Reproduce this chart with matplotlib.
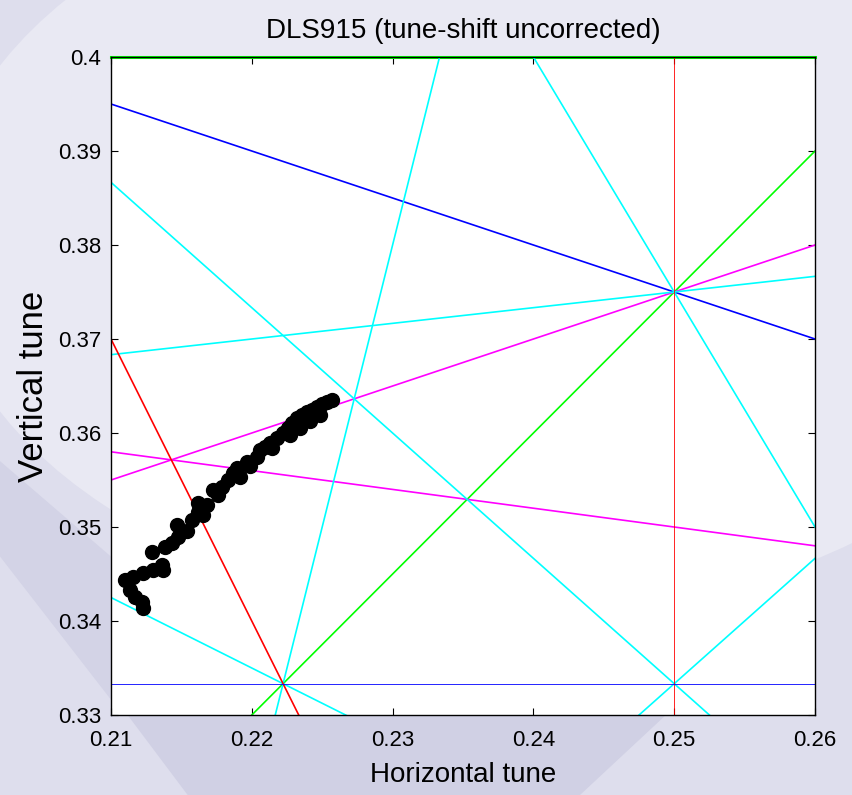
import numpy as np
import matplotlib
matplotlib.use('Agg')
import matplotlib.pyplot as plt
from matplotlib.patches import Polygon, Ellipse

plt.rcParams['font.family'] = ['Liberation Sans', 'DejaVu Sans']

# 文本
title = 'DLS915 (tune-shift uncorrected)'
x_label = 'Horizontal tune'
y_label = 'Vertical tune'
x_ticks = [0.21, 0.22, 0.23, 0.24, 0.25, 0.26]
x_tick_labels = ['0.21', '0.22', '0.23', '0.24', '0.25', '0.26']
y_ticks = [0.33, 0.34, 0.35, 0.36, 0.37, 0.38, 0.39, 0.40]
y_tick_labels = ['0.33', '0.34', '0.35', '0.36', '0.37', '0.38', '0.39', '0.4']

# 共振线  m*Qx + n*Qy = p
res_m = [0, 3, -1, 1, 1, -1, 5, 6, 4, 3, 4, 3, 1, 0]
res_n = [5, -2, 2, 5, 2, 6, 2, -1, 3, 4, -3, 1, 0, 3]
res_p = [2, 0, 0.5, 2, 1, 2, 2, 1, 2, 2, 0, 1, 0.25, 1]
res_color = ['#00ff00', '#00ff00', '#ff00ff', '#ff00ff', '#0000ff',
             '#00ffff', '#00ffff', '#00ffff', '#00ffff', '#00ffff', '#00ffff',
             '#ff0000', '#ff0000', '#0000ff']
res_lw = [2.2, 1.2, 1.2, 1.2, 1.2, 1.2, 1.2, 1.2, 1.2, 1.2, 1.2, 1.2, 0.6, 0.6]

# 测量的工作点
qx = [0.21227, 0.21220, 0.21170, 0.21135, 0.21099, 0.21156, 0.21227, 0.21298,
      0.21362, 0.21369, 0.21291, 0.21384, 0.21433, 0.21476, 0.21540, 0.21469,
      0.21575, 0.21618, 0.21653, 0.21618, 0.21682, 0.21724, 0.21760, 0.21788,
      0.21831, 0.21866, 0.21916, 0.21895, 0.21966, 0.21987, 0.22037, 0.22058,
      0.22094, 0.22143, 0.22129, 0.22179, 0.22271, 0.22222, 0.22257, 0.22342,
      0.22286, 0.22413, 0.22321, 0.22484, 0.22357, 0.22392, 0.22428, 0.22463,
      0.22499, 0.22534, 0.22570]
qy = [0.34138, 0.34202, 0.34255, 0.34330, 0.34436, 0.34468, 0.34511, 0.34543,
      0.34596, 0.34543, 0.34734, 0.34787, 0.34830, 0.34894, 0.34957, 0.35021,
      0.35074, 0.35160, 0.35128, 0.35255, 0.35234, 0.35394, 0.35340, 0.35426,
      0.35500, 0.35574, 0.35532, 0.35628, 0.35691, 0.35649, 0.35745, 0.35819,
      0.35851, 0.35840, 0.35894, 0.35947, 0.35979, 0.36000, 0.36053, 0.36053,
      0.36106, 0.36128, 0.36160, 0.36191, 0.36191, 0.36223, 0.36245, 0.36277,
      0.36309, 0.36330, 0.36351]

fig = plt.figure(figsize=(8.53, 7.95), dpi=100)
fig.patch.set_facecolor('#dedeed')

# 背景装饰（幻灯片底纹）
fig.patches.append(Ellipse((0.60, 0.70), 1.35, 0.95, transform=fig.transFigure,
                           facecolor='#e9e9f3', edgecolor='none', zorder=-10))
fig.patches.append(Polygon([[0.15, 0.10], [0.78, 0.10], [0.68, 0.0], [0.22, 0.0]],
                           closed=True, transform=fig.transFigure,
                           facecolor='#d0d0e4', edgecolor='none', zorder=-9))
fig.patches.append(Polygon([[0.0, 0.42], [0.13, 0.30], [0.13, 0.12], [0.0, 0.30]],
                           closed=True, transform=fig.transFigure,
                           facecolor='#d3d3e6', edgecolor='none', zorder=-9))

ax = fig.add_axes([0.1301, 0.1006, 0.8254, 0.8277])
ax.set_facecolor('white')

xr = np.array([0.21, 0.26])
for m, n, p, c, lw in zip(res_m, res_n, res_p, res_color, res_lw):
    if n != 0:
        ax.plot(xr, (p - m * xr) / n, color=c, lw=lw, zorder=2,
                clip_on=(lw < 2))
    else:
        ax.axvline(p / m, color=c, lw=lw, zorder=2)

ax.plot(qx, qy, 'o', color='black', markersize=10, zorder=3)

ax.set_xlim(0.21, 0.26)
ax.set_ylim(0.33, 0.40)
ax.set_xticks(x_ticks)
ax.set_xticklabels(x_tick_labels)
ax.set_yticks(y_ticks)
ax.set_yticklabels(y_tick_labels)
ax.tick_params(direction='in', length=5, width=0.8, top=True, right=True,
               labelsize=16)
ax.tick_params(axis='x', pad=11)
ax.tick_params(axis='y', pad=7)
for s in ax.spines.values():
    s.set_linewidth(1.0)

ax.set_title(title, fontsize=20, pad=14)
ax.set_xlabel(x_label, fontsize=20, labelpad=8)
ax.set_ylabel(y_label, fontsize=25, labelpad=6)

fig.savefig('out.png', dpi=100, facecolor=fig.get_facecolor())
